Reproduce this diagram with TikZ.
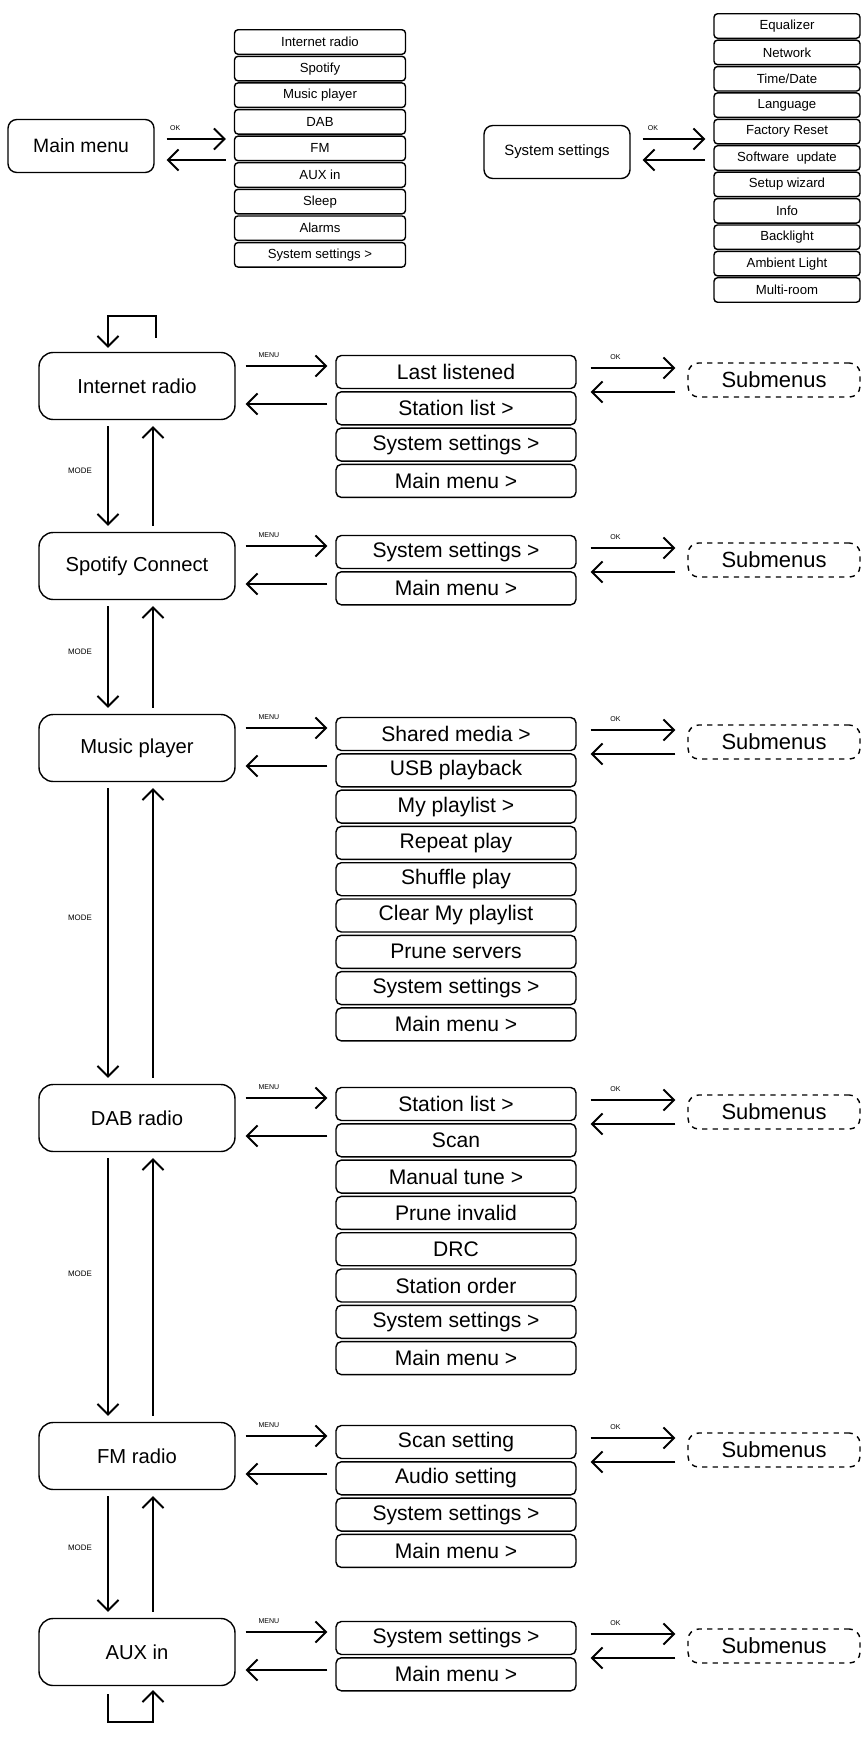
\documentclass[tikz,border=0pt]{standalone}
\usepackage{fontspec}
\setmainfont{Liberation Sans}
\usetikzlibrary{arrows.meta}
\usetikzlibrary{calc}
\tikzset{>={Straight Barb[length=6pt,width=12pt]}}
\tikzstyle{box}=[draw,rounded corners=5pt,line width=0.8pt,align=center]
\tikzstyle{item}=[box,rounded corners=3pt,minimum width=4.8cm,minimum height=0.66cm,font=\fontsize{12}{12}\selectfont]
\tikzstyle{topitem}=[box,rounded corners=2pt,minimum height=0.49cm,font=\fontsize{7.5}{8}\selectfont]
\tikzstyle{arr}=[->,line width=1.1pt]
\tikzstyle{tag}=[font=\fontsize{4}{4}\selectfont,inner sep=1pt]

\begin{document}
\begin{tikzpicture}[x=0.02cm,y=-0.02cm]
            \useasboundingbox (0,0) rectangle (868,1737);
            \def\step{36.3}
            % top level menus
            \node[box,minimum width=2.92cm,minimum height=1.06cm,font=\fontsize{11}{11}\selectfont] (main) at (81,146) {Main menu};
            \foreach \t [count=\i] in {Internet radio,Spotify,Music player,DAB,FM,AUX in,Sleep,Alarms,System settings >}
              \node[topitem,minimum width=3.42cm] (m\i) at (320,{42+(\i-1)*26.6}) {\t};
            \node[box,minimum width=2.92cm,minimum height=1.06cm,font=\fontsize{8.5}{9}\selectfont] (sys) at (557,152) {System settings};
            \foreach \t [count=\i] in {Equalizer,Network,Time/Date,Language,Factory Reset,Software\ \ update,Setup wizard,Info,Backlight,Ambient Light,Multi-room}
              \node[topitem,minimum width=2.92cm] (s\i) at (787,{26+(\i-1)*26.4}) {\t};
            \draw[arr] ($(main.east)+(12,-7)$) -- ($(main.east -| m1.west)+(-8,-7)$) node[tag,midway,above=3pt,xshift=-12pt] {OK};
            \draw[arr] ($(main.east -| m1.west)+(-8,14)$) -- ($(main.east)+(12,14)$);
            \draw[arr] ($(sys.east)+(12,-13)$) -- ($(sys.east -| s1.west)+(-8,-13)$) node[tag,midway,above=3pt,xshift=-12pt] {OK};
            \draw[arr] ($(sys.east -| s1.west)+(-8,8)$) -- ($(sys.east)+(12,8)$);
            % modes
            \foreach \n/\y/\t/\list in {ir/386/Internet radio/{Last listened,Station list >,System settings >,Main menu >},
                sp/566/Spotify Connect/{System settings >,Main menu >},
                mp/748/Music player/{Shared media >,USB playback,My playlist >,Repeat play,Shuffle play,Clear My playlist,Prune servers,System settings >,Main menu >},
                dab/1118/DAB radio/{Station list >,Scan,Manual tune >,Prune invalid,DRC,Station order,System settings >,Main menu >},
                fm/1456/FM radio/{Scan setting,Audio setting,System settings >,Main menu >},
                aux/1652/AUX in/{System settings >,Main menu >}} {
              \node[box,rounded corners=8pt,minimum width=3.92cm,minimum height=1.34cm,font=\fontsize{11.5}{12}\selectfont] (\n) at (137,\y) {\t};
              \foreach \s [count=\i] in \list
                \node[item] (\n\i) at (456,{\y-31+17+(\i-1)*\step}) {\s};
              \node[box,dashed,rounded corners=6pt,minimum width=3.44cm,minimum height=0.68cm,font=\fontsize{12.5}{13}\selectfont] (\n sub) at (774,\y-6) {Submenus};
              \draw[arr] ($(\n.east)+(10,-20)$) -- ($(\n.east -| \n1.west)+(-8,-20)$) node[tag,midway,above=3pt,xshift=-10pt] {MENU};
              \draw[arr] ($(\n.east -| \n1.west)+(-8,18)$) -- ($(\n.east)+(10,18)$);
              \draw[arr] ($(\n sub.west -| \n1.east)+(14,-12)$) -- ($(\n sub.west)+(-12,-12)$) node[tag,midway,above=3pt,xshift=-10pt] {OK};
              \draw[arr] ($(\n sub.west)+(-12,12)$) -- ($(\n sub.west -| \n1.east)+(14,12)$);
            }
            % mode arrows
            \foreach \a/\b in {ir/sp,sp/mp,mp/dab,dab/fm,fm/aux} {
              \draw[arr] ($(\a.south)+(-29,6)$) -- ($(\b.north)+(-29,-6)$);
              \draw[arr] ($(\b.north)+(16,-6)$) -- ($(\a.south)+(16,6)$);
              \node[tag,font=\fontsize{4.5}{5}\selectfont] at ($(\a.south)!0.45!(\b.north)+(-57,0)$) {MODE};
            }
            \coordinate (irloop) at ($(ir.north)+(-29,-36)$);
            \draw[arr] ($(ir.north)+(19,-14)$) |- (irloop) -- ($(ir.north)+(-29,-4)$);
            \coordinate (auxloop) at ($(aux.south)+(-29,36)$);
            \draw[arr] ($(aux.south)+(-29,8)$) -- (auxloop) -| ($(aux.south)+(16,4)$);
\end{tikzpicture}
\end{document}
